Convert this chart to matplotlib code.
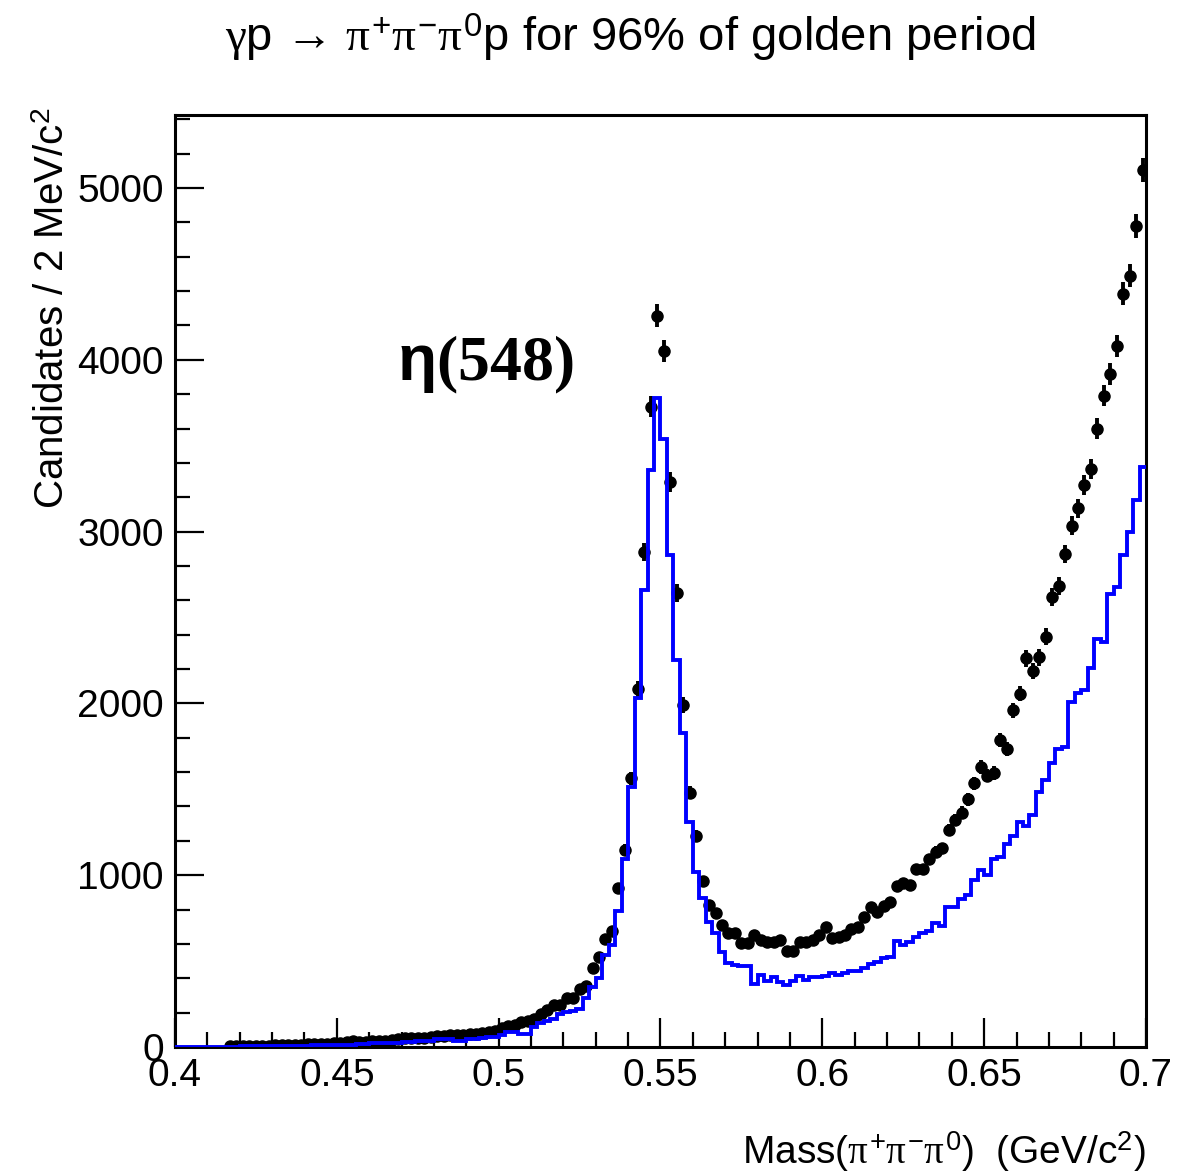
import numpy as np
import matplotlib
matplotlib.use("Agg")
import matplotlib.pyplot as plt
from matplotlib.ticker import MultipleLocator, FuncFormatter

plt.rcParams['font.family'] = ['Liberation Sans', 'DejaVu Sans']
plt.rcParams['mathtext.fontset'] = 'custom'
plt.rcParams['mathtext.rm'] = 'Liberation Sans'
plt.rcParams['mathtext.it'] = 'Liberation Serif'
plt.rcParams['mathtext.bf'] = 'Liberation Sans:bold'

# 2 MeV bins from 0.4 to 0.7 GeV
bin_edges = np.linspace(0.4, 0.7, 151)
bin_centers = 0.5 * (bin_edges[:-1] + bin_edges[1:])

# data counts (black points), bins 8..149 (nothing below 0.416)
first_data_bin = 8
data_counts = [
    3, 4, 5, 5, 6, 7, 8, 9, 10, 11, 12, 14, 15, 17, 18, 20, 22, 24, 28, 35,
    30, 30, 32, 33, 36, 40, 45, 50, 52, 52, 55, 58, 62, 65, 70, 68, 72,
    75, 78, 83, 89, 95, 110, 124, 130, 146, 150, 165, 194, 215, 244, 244,
    283, 283, 336, 355, 458, 526, 630, 677, 927, 1147, 1564, 2082, 2881,
    3727, 4257, 4051, 3289, 2643, 1991, 1480, 1228, 966, 829, 780, 710,
    665, 665, 607, 607, 654, 625, 613, 613, 625, 559, 559, 613, 613, 623,
    650, 698, 633, 641, 652, 688, 697, 758, 815, 788, 819, 846, 935, 953,
    943, 1034, 1034, 1093, 1134, 1156, 1263, 1321, 1364, 1442, 1535, 1632,
    1580, 1595, 1787, 1736, 1960, 2057, 2262, 2190, 2268, 2388, 2618, 2682,
    2869, 3034, 3136, 3273, 3366, 3600, 3790, 3916, 4078, 4384, 4490, 4778,
    5105,
]

# blue histogram, all 150 bins
blue_counts = [
    0, 0, 0, 0, 0, 0, 0, 0, 2, 2, 3, 3, 4, 4, 5, 5, 6, 6, 7, 8, 8, 9, 10, 10,
    12, 12, 13, 14, 15, 16, 22, 24, 25, 25, 26, 30, 31, 32, 32, 33, 44, 45,
    46, 32, 33, 45, 47, 50, 60, 60, 70, 89, 89, 76, 76, 118, 140, 150, 165,
    190, 202, 212, 220, 283, 351, 402, 536, 594, 790, 1092, 1515, 2030, 2660,
    3359, 3776, 3537, 2864, 2253, 1826, 1311, 1020, 868, 725, 663, 555, 487,
    477, 471, 471, 367, 419, 386, 405, 380, 361, 386, 413, 390, 405, 409,
    413, 429, 419, 430, 440, 445, 460, 483, 497, 516, 526, 619, 595, 613,
    640, 662, 674, 722, 704, 813, 813, 863, 885, 974, 1028, 1001, 1095, 1104,
    1182, 1228, 1311, 1286, 1350, 1486, 1554, 1651, 1733, 1748, 2008, 2060,
    2080, 2205, 2377, 2360, 2638, 2675, 2864, 2996, 3185, 3375,
]

fig = plt.figure(figsize=(12.01, 11.76), dpi=100)
ax = fig.add_axes([0.1457, 0.1097, 0.8085, 0.7925])

x_data = bin_centers[first_data_bin:]
y_data = np.array(data_counts, dtype=float)
ax.errorbar(x_data, y_data, yerr=np.sqrt(y_data), fmt='o', color='black',
            ms=8, elinewidth=2.8, capsize=0, zorder=2)
ax.stairs(blue_counts, bin_edges, color='#0000ff', lw=2.8, baseline=None,
          zorder=3)

ax.set_xlim(0.4, 0.7)
ax.set_ylim(0, 5425)

ax.xaxis.set_major_locator(MultipleLocator(0.05))
ax.xaxis.set_minor_locator(MultipleLocator(0.01))
ax.yaxis.set_major_locator(MultipleLocator(1000))
ax.yaxis.set_minor_locator(MultipleLocator(200))
ax.xaxis.set_major_formatter(FuncFormatter(lambda v, p: '%g' % round(v, 3)))
ax.yaxis.set_major_formatter(FuncFormatter(lambda v, p: '%d' % v))

ax.tick_params(which='both', direction='in', top=False, right=False,
               width=1.6, labelsize=28)
ax.tick_params(which='major', length=21)
ax.tick_params(which='minor', length=11)
ax.tick_params(axis='x', pad=8)
ax.tick_params(axis='y', pad=8)
for s in ax.spines.values():
    s.set_linewidth(2.2)

ax.text(0.4686, 3880, r'$\mathbf{\eta}$(548)', fontsize=46,
        family='Liberation Serif', fontweight='bold', va='baseline')

fig.text(0.525, 0.968,
         r'$\gamma$p → $\pi^{+}\pi^{-}\pi^{0}$p for 96% of golden period',
         ha='center', va='center', fontsize=34)
fig.text(0.044, 1 - 108 / 1176, r'Candidates / 2 MeV/c$^{2}$', rotation=90,
         ha='center', va='top', fontsize=29)
fig.text(1146 / 1201, 1 - 1152 / 1176,
         r'Mass($\pi^{+}\pi^{-}\pi^{0}$)  (GeV/c$^{2}$)',
         ha='right', va='center', fontsize=28)

fig.savefig('out.png', dpi=100)
